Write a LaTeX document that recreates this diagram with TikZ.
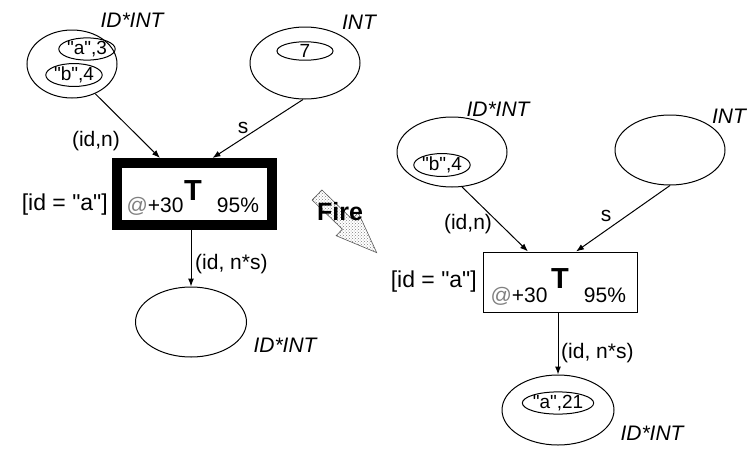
\documentclass[tikz,border=0pt]{standalone}
\usepackage{fontspec}
\setmainfont{Liberation Sans}
\usepackage{tikz}
\usetikzlibrary{arrows.meta,shapes.geometric,patterns}
\newcommand{\lblfont}{\fontsize{21}{24}\selectfont}
\newcommand{\tokfont}{\fontsize{19}{21}\selectfont}
\newcommand{\tfont}{\fontsize{29}{31}\selectfont\bfseries}
\newcommand{\q}{\textquotedbl}
\newcommand{\delay}{\textcolor{gray}{@}+30}

\begin{document}
\begin{tikzpicture}[
  x=1pt, y=-1pt,
  place/.style={draw, ellipse, line width=1pt, inner sep=0pt},
  token/.style={draw, ellipse, line width=1pt, inner sep=0pt, font=\tokfont},
  trans/.style={draw, rectangle, inner sep=0pt},
  arc/.style={-{Latex[length=8pt,width=6pt]}, line width=1pt},
  lbl/.style={font=\lblfont, inner sep=0pt},
  guard/.style={font=\fontsize{23}{25}\selectfont, inner sep=0pt},
  inscr/.style={font=\fontsize{21}{23}\selectfont, inner sep=0pt},
  cset/.style={font=\lblfont\itshape, inner sep=0pt},
]
\useasboundingbox (0,0) rectangle (751,450);
% ---------- before firing ----------
\node[place, minimum width=90, minimum height=68] (pa1) at (72,64) {};
\node[token, minimum width=54, minimum height=16] (ka1) at (87,49) {\q a\q,3};
\node[token, minimum width=56, minimum height=18] (kb1) at (74,75) {\q b\q,4};
\node[cset] (ca1) at (132,20) {ID*INT};
\node[place, minimum width=110, minimum height=72] (pb1) at (305,63) {};
\node[token, minimum width=56, minimum height=16] (ks1) at (305,51) {7};
\node[cset] (cb1) at (359,22) {INT};
\node[trans, line width=10pt, minimum width=155, minimum height=62] (t1) at (194.5,194) {};
\node[font=\tfont, inner sep=0pt] (n1) at (193,191) {T};
\node[inscr] (d1) at (155,206) {\delay};
\node[inscr] (r1) at (238,205) {95\%};
\node[guard, anchor=east] (g1) at (108,205) {[id = \q a\q]};
\node[place, minimum width=111, minimum height=70] (pc1) at (191,322) {};
\node[cset] (cc1) at (285,345) {ID*INT};
\draw[arc] (pa1.-52) -- ([xshift=-34.5pt]t1.north);
\draw[arc] (pb1.-93) -- ([xshift=18pt]t1.north);
\draw[arc] (t1.south -| pc1.north) -- (pc1.north);
\node[lbl] (ea1) at (96,141) {(id,n)};
\node[lbl] (eb1) at (243,128) {s};
\node[lbl, anchor=west] (ec1) at (195,264) {(id, n*s)};
% ---------- the fire arrow ----------
\begin{scope}[shift={(317,195)}, rotate=-44]
  \fill[pattern=crosshatch dots, pattern color=gray] (0,7) -- (42,7) -- (42,16) -- (83,0) -- (42,-16) -- (42,-7) -- (0,-7) -- cycle;
  \draw[line width=0.6pt, gray!70!black] (0,7) -- (42,7) -- (42,16) -- (83,0) -- (42,-16) -- (42,-7) -- (0,-7) -- cycle;
\end{scope}
\node[font=\fontsize{25}{27}\selectfont\bfseries, inner sep=0pt] (fire) at (340,212) {Fire};
% ---------- after firing ----------
\node[place, minimum width=110, minimum height=70] (pa2) at (452,152) {};
\node[token, minimum width=55, minimum height=16] (kb2) at (442,165) {\q b\q,4};
\node[cset] (ca2) at (498,109) {ID*INT};
\node[place, minimum width=110, minimum height=70] (pb2) at (670,150) {};
\node[cset] (cb2) at (729,116) {INT};
\node[trans, line width=1pt, minimum width=154, minimum height=60] (t2) at (560,282) {};
\node[font=\tfont, inner sep=0pt] (n2) at (560,279) {T};
\node[inscr] (d2) at (519,296) {\delay};
\node[inscr] (r2) at (605,295) {95\%};
\node[guard, anchor=east] (g2) at (477,282) {[id = \q a\q]};
\node[place, minimum width=112, minimum height=70] (pc2) at (558,410) {};
\node[token, minimum width=66, minimum height=18] (ka2) at (558,403) {\q a\q,21};
\node[cset] (cc2) at (652,433) {ID*INT};
\draw[arc] (pa2.-74) -- ([xshift=-32pt]t2.north);
\draw[arc] (pb2.south) -- ([xshift=16pt]t2.north);
\draw[arc] (t2.south -| pc2.north) -- (pc2.north);
\node[lbl] (ea2) at (468,224) {(id,n)};
\node[lbl] (eb2) at (606,216) {s};
\node[lbl, anchor=west] (ec2) at (561,353) {(id, n*s)};
\end{tikzpicture}
\end{document}
